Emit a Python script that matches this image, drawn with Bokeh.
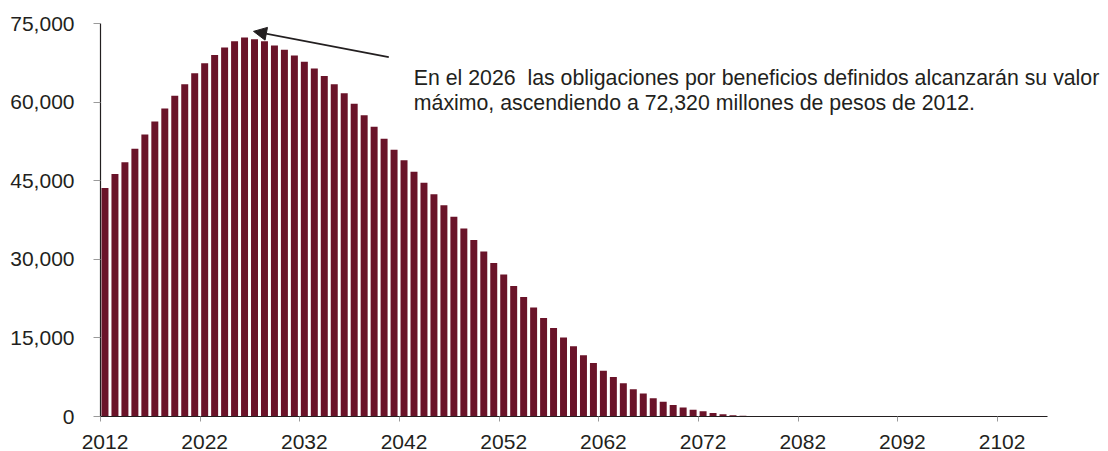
from bokeh.plotting import figure
from bokeh.models import (Range1d, FixedTicker, NumeralTickFormatter, Label,
                          Arrow, NormalHead, ColumnDataSource)
from bokeh.embed import file_html
from bokeh.resources import INLINE

# ---- data (millones de pesos de 2012) ----
years = list(range(2012, 2107))
values = [
    43600, 46300, 48500, 51100, 53800, 56300, 58800, 61200, 63400, 65500,
    67400, 69000, 70400, 71600, 72320, 72000, 71600, 70800, 70000, 68900,
    67700, 66400, 65000, 63400, 61700, 59700, 57500, 55300, 53000, 50900,
    48900, 46700, 44600, 42400, 40300, 38100, 35900, 33700, 31500, 29300,
    27100, 24900, 22800, 20800, 18800, 16900, 15100, 13400, 11700, 10200,
    8750, 7550, 6350, 5200, 4400, 3500, 2800, 2200, 1700, 1300,
    1000, 650, 450, 250, 150, 80, 0, 0, 0, 0,
    0, 0, 0, 0, 0, 0, 0, 0, 0, 0,
    0, 0, 0, 0, 0, 0, 0, 0, 0, 0,
    0, 0, 0, 0, 0,
]
label_years = [2012, 2022, 2032, 2042, 2052, 2062, 2072, 2082, 2092, 2102]
y_ticks = [0, 15000, 30000, 45000, 60000, 75000]
note_line1 = "En el 2026\u00a0 las obligaciones por beneficios definidos alcanzarán su valor"
note_line2 = "máximo, ascendiendo a 72,320 millones de pesos de 2012."

BAR = "#6a1329"
INK = "#231f20"
FONT = "Liberation Sans"

src = ColumnDataSource(dict(year=years, value=values))

half = 0.45
axis_start = years[0] - half
axis_end = years[-1] + 1 - half
# the frame extends past the axis end so that the note is not clipped
p = figure(width=1108, height=451, output_backend="svg", toolbar_location=None,
           x_range=Range1d(axis_start, axis_end + 5.92),
           y_range=Range1d(0, 75000),
           min_border_left=100, min_border_right=2, min_border_top=23,
           min_border_bottom=34)
p.outline_line_color = None
p.xgrid.visible = False
p.ygrid.visible = False

p.vbar(x="year", top="value", width=0.7, source=src,
       fill_color=BAR, line_color=None)

# x axis: labels centred on bars, tick marks on category boundaries
xa = p.xaxis[0]
xa.bounds = (axis_start, axis_end)
xa.ticker = FixedTicker(ticks=label_years,
                        minor_ticks=[y - half for y in label_years])
xa.major_tick_line_color = None
xa.major_tick_in = 0
xa.major_tick_out = 0
xa.minor_tick_in = 0
xa.minor_tick_out = 5
xa.minor_tick_line_color = "#9a9a9a"
xa.axis_line_color = INK
xa.axis_line_width = 1.2
xa.major_label_text_font = FONT
xa.major_label_text_font_size = "21px"
xa.major_label_text_color = INK
xa.major_label_standoff = 13

ya = p.yaxis[0]
ya.ticker = FixedTicker(ticks=y_ticks, minor_ticks=[])
ya.formatter = NumeralTickFormatter(format="0,0")
ya.major_tick_in = 0
ya.major_tick_out = 7
ya.major_tick_line_color = "#9a9a9a"
ya.minor_tick_line_color = None
ya.axis_line_color = INK
ya.axis_line_width = 1.2
ya.major_label_text_font = FONT
ya.major_label_text_font_size = "21px"
ya.major_label_text_color = INK
ya.major_label_standoff = 19

# annotation
p.add_layout(Arrow(end=NormalHead(size=13, fill_color=INK, line_color=INK),
                   x_start=2040.47, y_start=68600, x_end=2026.9, y_end=73500,
                   line_color=INK, line_width=1.8))
p.add_layout(Label(x=2042.98, y=64600, text=note_line1, text_font=FONT,
                   text_font_size="21.3px", text_color=INK,
                   text_baseline="alphabetic"))
p.add_layout(Label(x=2042.98, y=59800, text=note_line2, text_font=FONT,
                   text_font_size="21.3px", text_color=INK,
                   text_baseline="alphabetic"))

open("out.html", "w").write(file_html(p, INLINE))
